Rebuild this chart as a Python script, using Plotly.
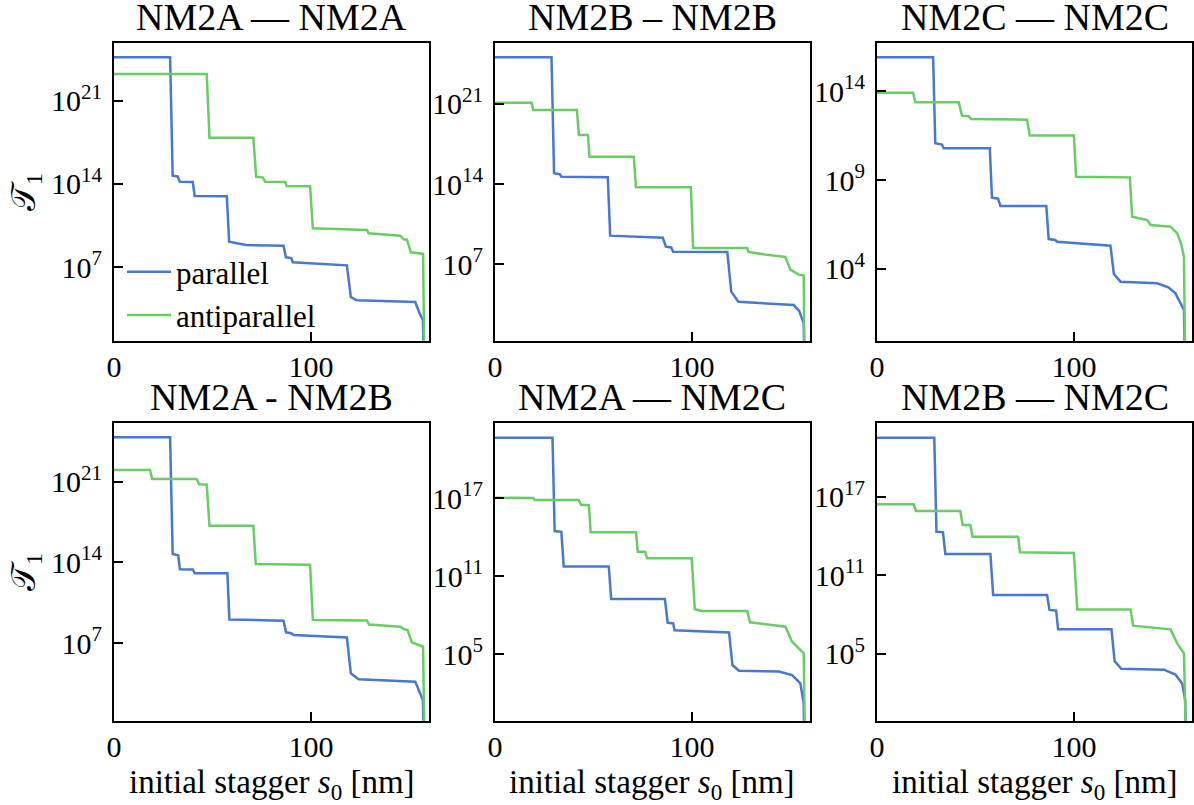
import plotly.graph_objects as go

# ---------------- data (s0 in nm, log10 of T1) ----------------
titles = ["NM2A — NM2A", "NM2B – NM2B", "NM2C — NM2C",
          "NM2A - NM2B", "NM2A — NM2C", "NM2B — NM2C"]

p1_par_s = [0, 28.5, 29.8, 32.3, 33.5, 40.0, 41.0, 57.3, 58.5, 67, 86.1, 87.3, 90.0, 90.8, 118.3, 120.3, 123.4, 153, 155, 156.9, 157.6]
p1_par_e = [24.65, 24.65, 14.69, 14.62, 14.18, 14.15, 12.98, 12.95, 9.13, 8.85, 8.8, 7.82, 7.75, 7.4, 7.14, 4.47, 4.2, 4.06, 3.2, 2.52, -3]
p1_anti_s = [0, 47.1, 48.5, 70.8, 72.2, 75.5, 76.8, 87.0, 87.7, 99.6, 101, 128.5, 129.3, 145.4, 147.1, 148.8, 150.8, 157, 157.8]
p1_anti_e = [23.25, 23.25, 17.89, 17.89, 14.6, 14.55, 14.18, 14.15, 13.82, 13.8, 10.26, 10.12, 9.84, 9.64, 9.33, 9.3, 8.24, 8.1, -3]

p2_par_s = [0, 28.7, 30, 33, 33.7, 57.3, 58.5, 85.2, 86.8, 89.5, 90.5, 118, 120, 123.6, 151.7, 154.5, 156.8, 157.3]
p2_par_e = [25.09, 25.09, 14.94, 14.85, 14.64, 14.6, 9.48, 9.3, 8.52, 8.45, 8.08, 8.05, 4.58, 3.7, 3.41, 2.9, 1.8, -3]
p2_anti_s = [0, 18.6, 19.4, 41.6, 42.6, 47.2, 48, 70.5, 71.6, 99.5, 100.6, 128.1, 128.8, 137.4, 147.5, 150, 154.3, 156.8, 157.3]
p2_anti_e = [21.11, 21.11, 20.47, 20.47, 18.28, 18.28, 16.38, 16.38, 13.71, 13.71, 8.41, 8.4, 8.06, 7.82, 7.62, 6.51, 6.07, 6.0, -3]

p3_par_s = [0, 28.5, 29.6, 33, 33.9, 57.3, 58.4, 61.5, 62.7, 86, 87.2, 90.5, 91.5, 118.6, 120.3, 123.7, 142.3, 148, 151.6, 155.9, 156.7]
p3_par_e = [15.92, 15.92, 11.07, 11.0, 10.79, 10.79, 8.0, 7.95, 7.53, 7.53, 5.67, 5.62, 5.52, 5.3, 3.7, 3.27, 3.18, 2.95, 2.61, 1.67, -3]
p3_anti_s = [0, 18.3, 19.5, 41.5, 43.2, 46.5, 47.8, 76.2, 77.6, 100, 101.1, 128.4, 129.6, 137.3, 139, 149.1, 152.5, 154.5, 155.9, 156.7]
p3_anti_e = [13.92, 13.92, 13.38, 13.38, 12.63, 12.6, 12.44, 12.4, 11.51, 11.51, 9.19, 9.15, 6.93, 6.74, 6.46, 6.37, 5.99, 5.4, 4.67, -3]

p4_par_s = [0, 28.5, 29.8, 32.6, 33.5, 40, 41, 57.6, 58.6, 86.1, 87.4, 90, 91.2, 118.3, 120.3, 124.2, 153, 156.9, 157.6]
p4_par_e = [24.85, 24.85, 14.72, 14.62, 13.4, 13.38, 13.05, 13.05, 9.05, 8.93, 7.93, 7.85, 7.7, 7.49, 4.37, 3.85, 3.65, 2.05, -3]
p4_anti_s = [0, 18.3, 19.4, 42, 43.2, 47.1, 48.5, 70.8, 72, 99.6, 101, 128.5, 129.6, 145.4, 147.5, 149.1, 151.3, 157, 157.8]
p4_anti_e = [22.01, 22.01, 21.23, 21.23, 20.77, 20.75, 17.18, 17.18, 13.85, 13.8, 8.99, 8.95, 8.61, 8.41, 8.2, 8.13, 7.06, 6.68, -3]

p5_par_s = [0, 29.2, 30.3, 33.7, 34.9, 57.8, 59, 86.3, 87.7, 90.5, 91.2, 118.9, 120.6, 123.9, 144.2, 150.9, 155.1, 156.8, 157.2]
p5_par_e = [21.64, 21.64, 14.46, 14.4, 11.74, 11.74, 9.23, 9.23, 7.41, 7.35, 6.82, 6.66, 4.15, 3.72, 3.65, 3.38, 2.74, 1.2, -3]
p5_anti_s = [0, 19.4, 20.2, 42.5, 43.8, 47.7, 48.6, 71.6, 72.5, 76.2, 77.2, 99.9, 101.5, 105, 128.1, 129.5, 147.5, 150.9, 153.4, 156.8, 157.6]
p5_anti_e = [17.02, 17.0, 16.85, 16.85, 16.46, 16.46, 14.36, 14.36, 12.87, 12.87, 12.36, 12.36, 8.44, 8.31, 8.31, 7.44, 7.1, 5.95, 5.56, 5.05, -3]

p6_par_s = [0, 29.1, 30.2, 33.5, 34.7, 57.6, 59, 86.4, 87.6, 91, 92, 119.1, 120.7, 124.1, 145.8, 151.6, 155, 156.5, 157.4]
p6_par_e = [21.5, 21.5, 14.33, 14.3, 12.63, 12.63, 9.5, 9.5, 8.36, 8.3, 6.88, 6.88, 4.45, 3.87, 3.8, 3.43, 2.74, 1.5, -3]
p6_anti_s = [0, 18.6, 19.8, 42.3, 43.5, 47.4, 48.6, 71.7, 72.6, 100, 101.7, 128.8, 130.1, 149.1, 152.5, 155.9, 157.2]
p6_anti_e = [16.42, 16.42, 15.91, 15.91, 14.84, 14.84, 13.95, 13.95, 12.76, 12.7, 8.4, 8.4, 7.16, 6.88, 5.81, 5.05, -3]

y_ranges = [[0.8, 25.83], [0.29, 26.31], [-0.06, 16.71],
            [0.26, 26.07], [-0.13, 22.75], [-0.09, 22.6]]
y_tick_exps = [[7, 14, 21], [7, 14, 21], [4, 9, 14],
               [7, 14, 21], [5, 11, 17], [5, 11, 17]]
x_ticks = [0, 100]

series = [
    (p1_par_s, p1_par_e, p1_anti_s, p1_anti_e),
    (p2_par_s, p2_par_e, p2_anti_s, p2_anti_e),
    (p3_par_s, p3_par_e, p3_anti_s, p3_anti_e),
    (p4_par_s, p4_par_e, p4_anti_s, p4_anti_e),
    (p5_par_s, p5_par_e, p5_anti_s, p5_anti_e),
    (p6_par_s, p6_par_e, p6_anti_s, p6_anti_e),
]

# ---------------- layout geometry (screen pixels) ----------------
W, H = 1194, 805
OFF = 0  # page body margin is removed by the post script below
col_px = [(114, 429), (495, 810), (877, 1192)]
row_px = [(43.3, 340.7), (423.3, 720.7)]


def fx(px):
    return (px - OFF) / W


def fy(py):
    return 1 - (py - OFF) / H


BLUE = "#4878d0"
GREEN = "#6acc64"
FONT = "Liberation Serif"

fig = go.Figure()
layout = dict(
    width=W, height=H,
    margin=dict(l=0, r=0, t=0, b=0, autoexpand=False),
    paper_bgcolor="white", plot_bgcolor="white",
    font=dict(family=FONT, size=30, color="black"),
    showlegend=True,
    legend=dict(x=fx(122), y=fy(245), xanchor="left", yanchor="top",
                bgcolor="rgba(0,0,0,0)", font=dict(size=31, family=FONT),
                itemwidth=44, tracegroupgap=0),
)
annotations = []

for i, (ps, pe, as_, ae) in enumerate(series):
    r, c = divmod(i, 3)
    n = i + 1
    xa = "x" if n == 1 else f"x{n}"
    ya = "y" if n == 1 else f"y{n}"
    fig.add_trace(go.Scatter(x=ps, y=[10.0 ** e for e in pe], mode="lines",
                             line=dict(color=BLUE, width=2.5), name="parallel",
                             showlegend=(i == 0), xaxis=xa, yaxis=ya))
    fig.add_trace(go.Scatter(x=as_, y=[10.0 ** e for e in ae], mode="lines",
                             line=dict(color=GREEN, width=2.5), name="antiparallel",
                             showlegend=(i == 0), xaxis=xa, yaxis=ya))
    x0, x1 = col_px[c]
    y0, y1 = row_px[r]
    layout[f"xaxis{'' if n == 1 else n}"] = dict(
        domain=[fx(x0), fx(x1)], anchor=ya, range=[0, 160], automargin=False,
        tickvals=x_ticks, ticktext=[str(v) for v in x_ticks],
        ticks="inside", ticklen=9, tickwidth=1.5, tickcolor="black",
        ticklabelstandoff=-2,
        showline=True, linecolor="black", linewidth=2, mirror=True,
        showgrid=False, zeroline=False, tickfont=dict(size=30, family=FONT))
    exps = y_tick_exps[i]
    layout[f"yaxis{'' if n == 1 else n}"] = dict(
        domain=[fy(y1), fy(y0)], anchor=xa, type="log", automargin=False,
        range=y_ranges[i],
        tickvals=[10.0 ** e for e in exps],
        ticktext=[f"10<sup>{e}</sup>" for e in exps],
        ticks="inside", ticklen=9, tickwidth=1.5, tickcolor="black",
        ticklabelstandoff=4,
        showline=True, linecolor="black", linewidth=2, mirror=True,
        showgrid=False, zeroline=False, tickfont=dict(size=30, family=FONT))
    annotations.append(dict(text=titles[i], xref="paper", yref="paper",
                            x=fx((x0 + x1) / 2), y=fy(y0 - 26.5),
                            xanchor="center", yanchor="middle", showarrow=False,
                            font=dict(size=38, family=FONT)))
    if r == 1:
        annotations.append(dict(text="initial stagger <i>s</i><sub>0</sub> [nm]",
                                xref="paper", yref="paper",
                                x=fx((x0 + x1) / 2), y=fy(784),
                                xanchor="center", yanchor="middle", showarrow=False,
                                font=dict(size=33, family=FONT)))
    if c == 0:
        annotations.append(dict(text="𝒯<sub>1</sub>", xref="paper", yref="paper",
                                x=fx(26), y=fy((y0 + y1) / 2), textangle=-90,
                                xanchor="center", yanchor="middle", showarrow=False,
                                font=dict(size=34, family=FONT)))

layout["annotations"] = annotations
fig.update_layout(**layout)
fig.write_html("out.html",
               config={"displayModeBar": False},
               post_script="document.body.style.margin='0';document.body.style.padding='0';")
